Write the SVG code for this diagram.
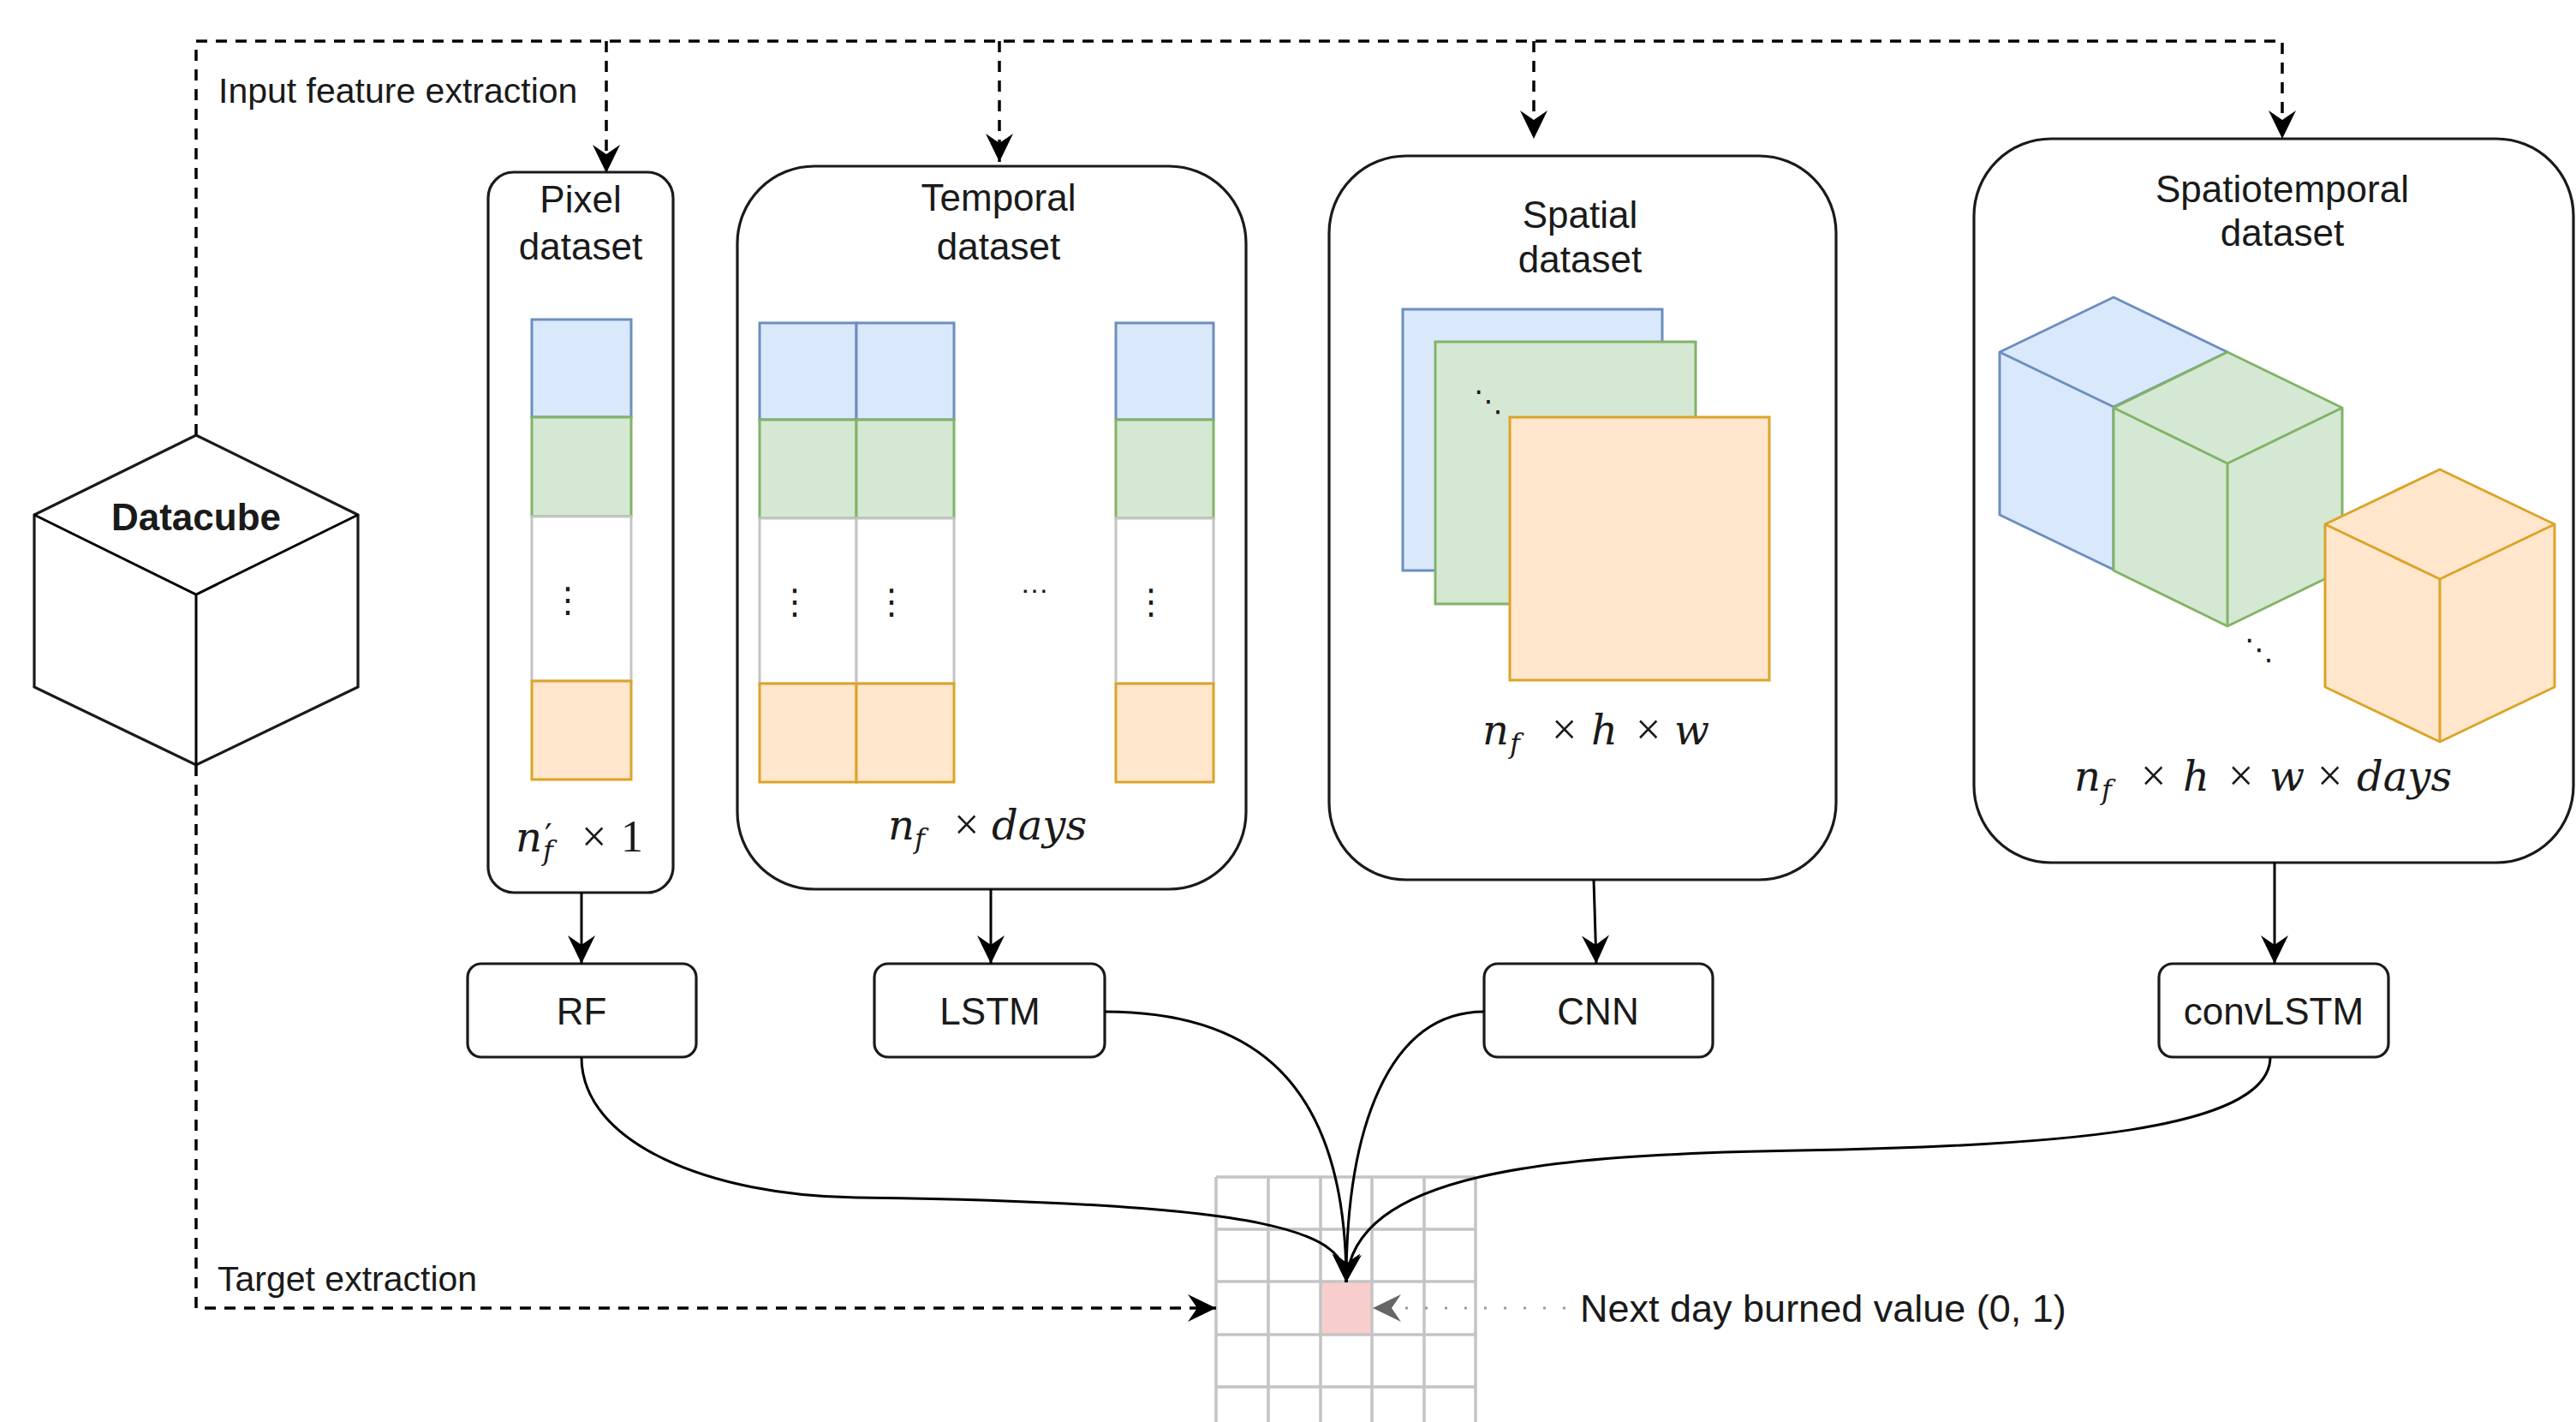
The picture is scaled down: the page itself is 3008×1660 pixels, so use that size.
<svg xmlns="http://www.w3.org/2000/svg" width="3008" height="1660" viewBox="0 0 3008 1660">
  <defs>
    <marker id="ah" viewBox="-36 -20 40 40" refX="0" refY="0" markerWidth="40" markerHeight="40" markerUnits="userSpaceOnUse" orient="auto">
      <path d="M0,0 L-33,-16 L-22,0 L-33,16 Z" fill="#000"/>
    </marker>
    <marker id="ahGray" viewBox="-36 -20 40 40" refX="0" refY="0" markerWidth="40" markerHeight="40" markerUnits="userSpaceOnUse" orient="auto">
      <path d="M0,0 L-33,-16 L-22,0 L-33,16 Z" fill="#666"/>
    </marker>
    <style>
      .lbl { font-family: "Liberation Sans", Arial, sans-serif; font-size: 44px; fill: #1a1a1a; text-anchor: middle; }
      .bold { font-weight: bold; }
      .edge-lbl { font-family: "Liberation Sans", Arial, sans-serif; font-size: 41px; fill: #1a1a1a; }
      .big { font-size: 45px; }
      .math { font-family: "DejaVu Serif", "Liberation Serif", serif; font-size: 48px; fill: #1a1a1a; }
      .it { font-style: italic; }
      .sub { font-size: 32px; }
      .op { font-family: "Liberation Serif", "Times New Roman", serif; font-size: 52px; font-style: normal; }
      .prime { font-size: 38px; font-style: normal; }
      .vdots { font-family: "DejaVu Sans", sans-serif; font-size: 40px; fill: #1a1a1a; text-anchor: middle; }
      .hdots { font-family: "Liberation Sans", sans-serif; font-size: 34px; fill: #1a1a1a; text-anchor: middle; }
      .ddots { font-family: "DejaVu Sans", sans-serif; font-size: 34px; fill: #1a1a1a; text-anchor: middle; }
      .box { fill: #fff; stroke: #1a1a1a; stroke-width: 3.2; }
      .blue { fill: #dae8fc; stroke: #6c8ebf; stroke-width: 3; }
      .green { fill: #d5e8d4; stroke: #82b366; stroke-width: 3; }
      .white { fill: #fff; stroke: #c4c4c4; stroke-width: 3; }
      .orange { fill: #ffe6cc; stroke: #dba428; stroke-width: 3; }
      .edges { fill: none; }
      .cube { stroke-linejoin: round; }
      .solid { fill: none; stroke: #000; stroke-width: 3; }
      .dashed { fill: none; stroke: #000; stroke-width: 3.5; stroke-dasharray: 13 10; }
      .dotted { fill: none; stroke: #9a9a9a; stroke-width: 3; stroke-dasharray: 3 20; }
      .grid { stroke: #c4c4c4; stroke-width: 3.5; fill: none; }
    </style>
  </defs>

  <rect width="3008" height="1660" fill="#fff"/>

  <!-- target grid -->
  <g id="target-grid">
    <rect x="1542" y="1496" width="60" height="62" fill="#f8cecc"/>
    <path class="grid" d="M1420,1374 V1660 M1481,1374 V1660 M1542,1374 V1660 M1602,1374 V1660 M1663,1374 V1660 M1723,1374 V1660 M1420,1374 H1723 M1420,1435 H1723 M1420,1496 H1723 M1420,1558 H1723 M1420,1619 H1723"/>
  </g>

  <!-- datacube -->
  <g id="datacube">
    <polygon class="box" points="229,508 418,601 418,802 229,893 40,802 40,601"/>
    <path class="solid" d="M40,601 L229,694 L418,601 M229,694 V893"/>
    <text class="lbl bold" x="229" y="619">Datacube</text>
  </g>

  <!-- pixel dataset -->
  <g id="pixel-dataset">
    <rect class="box" x="570" y="201" width="216" height="841" rx="30"/>
    <text class="lbl" x="678" y="248">Pixel</text>
    <text class="lbl" x="678" y="303">dataset</text>
    <rect class="blue" x="621" y="373" width="116" height="114"/>
    <rect class="green" x="621" y="487" width="116" height="116"/>
    <rect class="white" x="621" y="603" width="116" height="192"/>
    <rect class="orange" x="621" y="795" width="116" height="115"/>
    <text class="vdots" x="663" y="714">⋮</text>
    <text class="math" y="994"><tspan class="it" x="602">n</tspan><tspan class="prime" x="636" y="988">′</tspan><tspan class="it sub" x="634" y="1004">f</tspan><tspan class="op" x="679" y="994">×</tspan><tspan class="op" x="725">1</tspan></text>
  </g>

  <!-- temporal dataset -->
  <g id="temporal-dataset">
    <rect class="box" x="861" y="194" width="594" height="844" rx="90"/>
    <text class="lbl" x="1166" y="246">Temporal</text>
    <text class="lbl" x="1166" y="303">dataset</text>
    <rect class="blue" x="887" y="377" width="113" height="113"/>
    <rect class="green" x="887" y="490" width="113" height="115"/>
    <rect class="white" x="887" y="605" width="113" height="193"/>
    <rect class="orange" x="887" y="798" width="113" height="115"/>
    <rect class="blue" x="1000" y="377" width="114" height="113"/>
    <rect class="green" x="1000" y="490" width="114" height="115"/>
    <rect class="white" x="1000" y="605" width="114" height="193"/>
    <rect class="orange" x="1000" y="798" width="114" height="115"/>
    <rect class="blue" x="1303" y="377" width="114" height="113"/>
    <rect class="green" x="1303" y="490" width="114" height="115"/>
    <rect class="white" x="1303" y="605" width="114" height="193"/>
    <rect class="orange" x="1303" y="798" width="114" height="115"/>
    <text class="vdots" x="928" y="716">⋮</text>
    <text class="vdots" x="1041" y="716">⋮</text>
    <text class="vdots" x="1344" y="716">⋮</text>
    <text class="hdots" x="1208" y="692">…</text>
    <text class="math" y="980"><tspan class="it" x="1037">n</tspan><tspan class="it sub" x="1068" y="990">f</tspan><tspan class="op" x="1114" y="980">×</tspan><tspan class="it" x="1158">days</tspan></text>
  </g>

  <!-- spatial dataset -->
  <g id="spatial-dataset">
    <rect class="box" x="1552" y="182" width="592" height="845" rx="90"/>
    <text class="lbl" x="1845" y="266">Spatial</text>
    <text class="lbl" x="1845" y="318">dataset</text>
    <rect class="blue" x="1638" y="361" width="303" height="305"/>
    <rect class="green" x="1676" y="399" width="304" height="306"/>
    <rect class="orange" x="1763" y="487" width="303" height="307"/>
    <text class="ddots" x="1738" y="480">⋱</text>
    <text class="math" y="869"><tspan class="it" x="1731">n</tspan><tspan class="it sub" x="1763" y="879">f</tspan><tspan class="op" x="1812" y="869">×</tspan><tspan class="it" x="1858">h</tspan><tspan class="op" x="1910">×</tspan><tspan class="it" x="1955">w</tspan></text>
  </g>

  <!-- spatiotemporal dataset -->
  <g id="spatiotemporal-dataset">
    <rect class="box" x="2305" y="162" width="700" height="845" rx="90"/>
    <text class="lbl" x="2665" y="236">Spatiotemporal</text>
    <text class="lbl" x="2665" y="287">dataset</text>
    <g class="cube">
      <polygon class="blue" points="2468,347 2601,411 2601,601 2468,665 2335,601 2335,411"/>
      <path class="blue edges" d="M2335,411 L2468,475 L2601,411 M2468,475 V665"/>
      <polygon class="green" points="2601,411 2735,476 2735,666 2601,731 2468,666 2468,476"/>
      <path class="green edges" d="M2468,476 L2601,541 L2735,476 M2601,541 V731"/>
      <polygon class="orange" points="2849,548 2983,612 2983,802 2849,866 2715,802 2715,612"/>
      <path class="orange edges" d="M2715,612 L2849,676 L2983,612 M2849,676 V866"/>
    </g>
    <text class="ddots" x="2638" y="770">⋱</text>
    <text class="math" y="923"><tspan class="it" x="2422">n</tspan><tspan class="it sub" x="2454" y="933">f</tspan><tspan class="op" x="2500" y="923">×</tspan><tspan class="it" x="2549">h</tspan><tspan class="op" x="2602">×</tspan><tspan class="it" x="2650">w</tspan><tspan class="op" x="2706">×</tspan><tspan class="it" x="2752">days</tspan></text>
  </g>

  <!-- models -->
  <g id="model-rf">
    <rect class="box" x="546" y="1125" width="267" height="109" rx="16"/>
    <text class="lbl" x="679" y="1196">RF</text>
  </g>
  <g id="model-lstm">
    <rect class="box" x="1021" y="1125" width="269" height="109" rx="16"/>
    <text class="lbl" x="1156" y="1196">LSTM</text>
  </g>
  <g id="model-cnn">
    <rect class="box" x="1733" y="1125" width="267" height="109" rx="16"/>
    <text class="lbl" x="1866" y="1196">CNN</text>
  </g>
  <g id="model-convlstm">
    <rect class="box" x="2521" y="1125" width="268" height="109" rx="16"/>
    <text class="lbl" x="2655" y="1196">convLSTM</text>
  </g>

  <!-- connectors -->
  <g id="connectors">
    <path class="dashed" d="M229,508 V48 H2665 V162" marker-end="url(#ah)"/>
    <path class="dashed" d="M708,48 V202" marker-end="url(#ah)"/>
    <path class="dashed" d="M1167,48 V189" marker-end="url(#ah)"/>
    <path class="dashed" d="M1791,48 V162" marker-end="url(#ah)"/>
    <path class="dashed" d="M229,893 V1527 H1420" marker-end="url(#ah)"/>

    <path class="solid" d="M679,1042 V1125" marker-end="url(#ah)"/>
    <path class="solid" d="M1157,1038 V1125" marker-end="url(#ah)"/>
    <path class="solid" d="M1861,1027 L1864,1125" marker-end="url(#ah)"/>
    <path class="solid" d="M2656,1007 V1125" marker-end="url(#ah)"/>

    <path class="solid" d="M679,1234 C679,1335 830,1396 1000,1398 C1500,1404 1572,1440 1572,1497" marker-end="url(#ah)"/>
    <path class="solid" d="M1290,1181 C1440,1181 1572,1240 1572,1497" marker-end="url(#ah)"/>
    <path class="solid" d="M1733,1181 C1620,1181 1572,1320 1572,1497" marker-end="url(#ah)"/>
    <path class="solid" d="M2651,1234 C2651,1320 2400,1338 2100,1343 C1800,1348 1580,1370 1572,1497" marker-end="url(#ah)"/>

    <path class="dotted" d="M1828,1527 H1603" marker-end="url(#ahGray)"/>

    <text class="edge-lbl" x="255" y="120">Input feature extraction</text>
    <text class="edge-lbl" x="254" y="1507">Target extraction</text>
    <text class="edge-lbl big" x="1845" y="1543">Next day burned value (0, 1)</text>
  </g>
</svg>
